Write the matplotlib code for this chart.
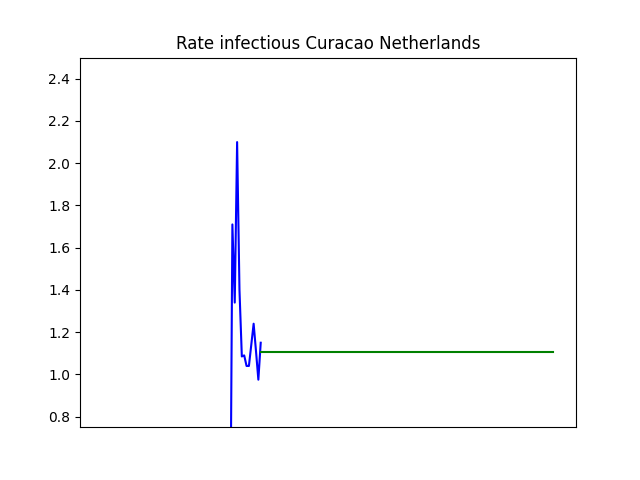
import matplotlib
matplotlib.use("Agg")
import matplotlib.pyplot as plt
import numpy as np

# Observed (blue) rate values by day index
observed_days = list(range(0, 68))
observed_values = [0.0] * 55 + [1.71, 1.34, 2.10, 1.40, 1.085, 1.09, 1.04, 1.04,
                                1.14, 1.24, 1.11, 0.975, 1.15]

# Projected (green) constant rate
projected_days = list(range(67, 192))
projected_values = [1.105] * len(projected_days)

fig, ax = plt.subplots(figsize=(6.4, 4.8), dpi=100)
ax.plot(observed_days, observed_values, color="b")
ax.plot(projected_days, projected_values, color="g")
ax.set_ylim(0.75, 2.5)
ax.set_xticks([])
ax.set_title("Rate infectious Curacao Netherlands")
fig.savefig("out.png")
